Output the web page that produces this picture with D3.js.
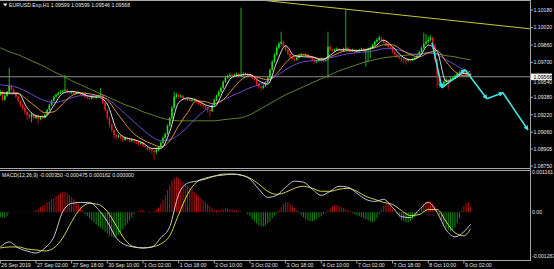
<!DOCTYPE html>
<html>
<head>
<meta charset="utf-8">
<script src="https://cdn.jsdelivr.net/npm/d3@7"></script>
<style>
body { margin: 0; background: #000; }
svg { display: block; }
text { font-family: "Liberation Sans", Arial, sans-serif; font-size: 5.2px; fill: #e6e6e6; }
</style>
</head>
<body>
<script>
//Chart window size
var w = 554;
var h = 269;
var plotRight = 530;

//Title texts
var priceTitle = "EURUSD.Exp,H1  1.09599 1.09599 1.09546 1.09568";
var macdTitle = "MACD(12,26,9) -0.000350 -0.000475 0.000162 0.000000";

//Time axis labels (every 16 H1 bars)
var timeLabels = ["26 Sep 2019", "27 Sep 02:00", "27 Sep 18:00", "30 Sep 10:00", "1 Oct 02:00",
  "1 Oct 18:00", "2 Oct 10:00", "3 Oct 02:00", "3 Oct 18:00", "4 Oct 10:00", "7 Oct 02:00",
  "7 Oct 18:00", "8 Oct 10:00", "9 Oct 02:00"];
var timeLabelBars = [0, 16, 32, 48, 64, 80, 96, 112, 128, 144, 160, 176, 192, 208];

//Price axis labels
var priceTicks = [1.10180, 1.10020, 1.09860, 1.09700, 1.09540, 1.09380, 1.09220, 1.09060, 1.08905, 1.08750];
var priceTickLabels = ["1.10180", "1.10020", "1.09860", "1.09700", "1.09540", "1.09380", "1.09220", "1.09060", "1.08905", "1.08750"];
var lastPrice = 1.09568;

//MACD axis labels
var macdTicks = [0.001161, 0, -0.001263];
var macdTickLabels = ["0.001161", "0.00", "-0.001263"];

//Candles, prices in points (1.00000 + pts/100000); open = previous close
var firstOpenPts = 9400;
var closePts = [9430,9357,9394,9430,9485,9449,9421,9385,9348,9311,
  9284,9247,9220,9201,9229,9192,9210,9183,9201,9192,
  9220,9265,9311,9348,9385,9403,9421,9430,9440,9449,
  9430,9421,9430,9412,9421,9424,9403,9412,9385,9375,
  9366,9385,9375,9385,9394,9403,9330,9265,9192,9128,
  9082,9036,9018,9027,9009,8990,9009,9000,8981,8990,
  8981,8972,8954,8963,8935,8926,8908,8899,8890,8880,
  8899,8926,8963,9009,9045,9119,9192,9284,9385,9403,
  9385,9394,9366,9357,9366,9348,9357,9360,9339,9320,
  9311,9302,9284,9265,9256,9302,9357,9394,9430,9467,
  9522,9559,9577,9586,9577,9586,9596,9577,9586,9596,
  9596,9586,9577,9559,9540,9504,9476,9467,9485,9513,
  9559,9632,9706,9770,9834,9871,9889,9852,9816,9779,
  9751,9733,9724,9742,9761,9770,9761,9770,9751,9742,
  9724,9706,9715,9724,9733,9715,9724,9843,9816,9806,
  9816,9825,9816,9806,9825,9834,9816,9806,9816,9797,
  9806,9816,9825,9806,9816,9825,9834,9861,9889,9907,
  9926,9907,9880,9861,9843,9834,9797,9770,9751,9742,
  9733,9724,9715,9724,9720,9733,9742,9761,9797,9834,
  9871,9889,9907,9926,9861,9724,9586,9495,9485,9522,
  9540,9531,9550,9559,9577,9596,9605,9614,9605,9586,
  9599,9568];
var highPts = [9445,9440,9405,9440,9651,9495,9460,9430,9395,9355,
  9320,9290,9255,9230,9240,9235,9220,9215,9210,9215,
  9230,9275,9320,9360,9395,9415,9430,9445,9450,9586,
  9460,9440,9440,9438,9430,9435,9430,9420,9420,9395,
  9385,9395,9392,9395,9405,9467,9410,9340,9275,9200,
  9140,9090,9045,9040,9035,9015,9020,9018,9010,9000,
  8998,8990,8980,8975,8970,8945,8935,8915,8910,8900,
  8910,8935,8975,9020,9055,9130,9200,9300,9430,9420,
  9415,9405,9400,9375,9378,9372,9368,9370,9368,9345,
  9330,9320,9310,9290,9275,9315,9370,9405,9445,9480,
  9535,9575,9590,9600,9598,9597,9606,9605,10201,9610,
  9608,9603,9595,9585,9565,9548,9512,9490,9498,9525,
  9570,9645,9720,9785,9850,9890,9981,9900,9860,9825,
  9790,9760,9745,9752,9772,9785,9778,9782,9778,9760,
  9750,9732,9725,9735,9745,9740,9735,9981,9855,9825,
  9828,9838,9832,9822,9835,10191,9842,9825,9826,9822,
  9818,9825,9835,9832,9825,9835,9845,9870,9900,9925,
  9945,9935,9915,9890,9870,9852,9840,9805,9780,9760,
  9750,9742,9732,9735,9732,9742,9752,9772,9808,9845,
  9971,9960,9940,9950,9935,9870,9735,9595,9510,9535,
  9555,9550,9565,9570,9590,9610,9620,9630,9625,9612,
  9612,9599];
var lowPts = [9390,9345,9350,9385,9420,9440,9410,9370,9330,9290,
  9260,9220,9170,9180,9150,9175,9180,9140,9170,9180,
  9185,9210,9255,9300,9340,9375,9395,9410,9420,9430,
  9420,9410,9410,9400,9405,9410,9395,9395,9375,9360,
  9355,9360,9365,9368,9378,9385,9320,9250,9170,9100,
  9060,9000,8990,9005,8995,8970,8980,8985,8965,8970,
  8960,8950,8940,8945,8920,8910,8890,8880,8860,8807,
  8860,8885,8915,8950,8995,9035,9110,9180,9275,9370,
  9370,9375,9355,9345,9348,9338,9340,9345,9325,9305,
  9295,9285,9270,9240,9201,9245,9295,9345,9385,9420,
  9455,9510,9550,9565,9565,9570,9575,9565,9570,9578,
  9585,9575,9565,9545,9525,9490,9460,9440,9455,9475,
  9505,9550,9620,9695,9760,9820,9860,9840,9800,9765,
  9740,9720,9710,9715,9735,9750,9750,9752,9740,9730,
  9710,9690,9695,9705,9715,9700,9705,9559,9805,9795,
  9798,9805,9805,9795,9798,9815,9805,9795,9798,9785,
  9790,9798,9808,9795,9660,9700,9740,9825,9850,9878,
  9895,9895,9870,9850,9830,9820,9785,9755,9740,9730,
  9700,9690,9680,9705,9705,9712,9725,9735,9752,9790,
  9825,9860,9880,9895,9850,9710,9467,9467,9470,9475,
  9510,9449,9520,9540,9548,9570,9585,9595,9592,9575,
  9580,9546];

//Moving averages read every 4 bars, in points
var maBars = [0,4,8,12,16,20,24,28,32,36,40,44,48,52,56,60,64,68,72,76,80,84,88,92,96,100,
  104,108,112,116,120,124,128,132,136,140,144,148,152,156,160,164,168,172,176,180,184,188,
  192,196,200,204,208,211];
var maWhite = [9421,9419,9418,9284,9210,9201,9306,9416,9434,9418,9388,9381,9317,9091,9010,8992,8961,8911,8911,9065,
  9330,9374,9353,9311,9293,9434,9564,9584,9588,9531,9500,9700,9852,9760,9751,9749,9720,9766,9815,9815,
  9806,9815,9845,9902,9843,9759,9724,9751,9859,9801,9526,9551,9599,9588];
var maOrange = [9421,9412,9412,9357,9293,9238,9247,9320,9394,9421,9412,9394,9357,9247,9137,9045,8990,8953,8926,8981,
  9119,9238,9348,9339,9320,9357,9449,9540,9577,9559,9540,9595,9696,9760,9770,9751,9733,9751,9788,9806,
  9806,9815,9834,9861,9861,9815,9770,9751,9788,9806,9706,9614,9577,9577];
var maPurple = [9495,9485,9467,9430,9385,9348,9330,9348,9375,9394,9394,9394,9366,9302,9229,9155,9082,9018,8981,8990,
  9036,9109,9192,9265,9320,9357,9394,9430,9467,9495,9531,9577,9632,9678,9706,9715,9724,9742,9761,9779,
  9788,9797,9806,9825,9825,9806,9779,9770,9788,9770,9724,9678,9632,9614];
var maOlive = [9834,9797,9770,9733,9696,9660,9614,9577,9531,9495,9458,9421,9385,9348,9311,9284,9247,9220,9192,9174,
  9164,9164,9164,9164,9164,9174,9183,9192,9220,9265,9311,9357,9403,9440,9476,9513,9550,9586,9623,9650,
  9678,9706,9724,9742,9751,9761,9770,9779,9788,9779,9761,9751,9733,9724];

//Drawn objects: trend line and forecast zigzag (bar index, points)
var trendBars = [119.6, 237.6];
var trendPts = [10265, 10008];
var forecastBars = [193.7, 198.1, 208.5, 218.3, 225.5, 236.7];
var forecastPts = [9880, 9467, 9632, 9366, 9421, 9082];

//MACD main and signal (every 4 bars) and histogram (every bar), in millionths
var macdMain = [-1002,-856,-1031,-1118,-1177,-1031,-710,20,254,283,283,79,-272,-739,-943,-1002,-1031,-1002,-739,-418,
  517,838,896,955,1042,1072,1101,1072,955,663,429,488,721,896,867,663,488,604,750,721,
  546,371,312,371,137,-126,-155,79,283,-9,-505,-710,-564,-350];
var macdSignal = [-1031,-1002,-1002,-1060,-1089,-1118,-1031,-739,-272,108,254,225,20,-388,-797,-1002,-1031,-1002,-914,-680,
  -67,517,867,984,1042,1101,1101,1072,984,809,604,517,575,692,750,692,604,604,663,692,
  604,458,371,283,225,50,-96,-67,79,79,-272,-593,-680,-475];
var macdHist = [-146,-146,-175,-117,-29,0,15,0,-15,0,
  15,0,0,15,0,15,58,88,146,175,
  234,292,321,380,409,467,496,555,584,584,
  555,496,438,380,321,234,146,58,-58,-117,
  -175,-234,-292,-350,-409,-438,-496,-555,-613,-672,
  -701,-730,-701,-642,-584,-496,-409,-321,-234,-146,
  -58,0,29,58,58,29,0,-29,0,29,
  88,146,234,350,496,642,788,905,993,1022,
  993,934,876,818,759,701,642,584,526,467,
  409,350,292,234,175,117,58,58,58,88,
  88,117,117,88,88,58,58,29,29,0,
  0,-58,-117,-204,-263,-321,-380,-409,-409,-380,
  -321,-263,-175,-88,-29,58,146,234,292,292,
  234,175,117,58,-29,-88,-146,-204,-234,-263,
  -263,-234,-204,-146,-117,-58,-29,58,117,175,
  204,204,175,146,117,88,58,29,-29,-58,
  -88,-117,-146,-175,-204,-234,-263,-292,-263,-175,
  -58,88,175,234,234,175,88,29,-58,-146,
  -234,-263,-292,-292,-263,-204,-146,-58,58,146,
  234,292,321,321,263,175,58,-88,-234,-350,
  -467,-526,-555,-526,-438,-321,-175,58,175,263,
  292,162];

var toPrice = function(p) { return 1 + p / 100000; };
var toMacd = function(v) { return v / 1000000; };

//Build candle objects
var candles = closePts.map(function(c, i) {
  return {
    i: i,
    o: toPrice(i === 0 ? firstOpenPts : closePts[i - 1]),
    h: toPrice(highPts[i]),
    l: toPrice(lowPts[i]),
    c: toPrice(c)
  };
});

//Scales
var xScale = d3.scaleLinear().domain([0, 211]).range([0.33, 470.6]);
var yScale = d3.scaleLinear().domain([1.08750, 1.10180]).range([166, 10]);
var mScale = d3.scaleLinear().domain([-0.001263, 0.001161]).range([256, 172]);

//Create SVG element
var svg = d3.select("body")
  .append("svg")
  .attr("width", w)
  .attr("height", h);

svg.append("rect").attr("width", w).attr("height", h).attr("fill", "#000");

var defs = svg.append("defs");
defs.append("clipPath").attr("id", "clipMain")
  .append("rect").attr("x", 0).attr("y", 1).attr("width", plotRight).attr("height", 167);
defs.append("clipPath").attr("id", "clipMacd")
  .append("rect").attr("x", 0).attr("y", 171).attr("width", plotRight).attr("height", 89);
defs.append("marker")
  .attr("id", "arrow")
  .attr("viewBox", "0 0 6 6")
  .attr("refX", 5).attr("refY", 3)
  .attr("markerWidth", 5).attr("markerHeight", 5)
  .attr("markerUnits", "userSpaceOnUse")
  .attr("orient", "auto")
  .append("path").attr("d", "M0,0L6,3L0,6Z").attr("fill", "#3fe3e0");

var main = svg.append("g").attr("clip-path", "url(#clipMain)");

//Current price line
main.append("line")
  .attr("x1", 0).attr("x2", plotRight)
  .attr("y1", yScale(lastPrice)).attr("y2", yScale(lastPrice))
  .attr("stroke", "#8a8a8a").attr("stroke-width", 1);

//Candles: wicks then bodies
main.selectAll("line.wick")
  .data(candles)
  .enter()
  .append("line")
  .attr("class", "wick")
  .attr("x1", d => xScale(d.i))
  .attr("x2", d => xScale(d.i))
  .attr("y1", d => yScale(d.h))
  .attr("y2", d => yScale(d.l))
  .attr("stroke", d => d.c >= d.o ? "#1fe01f" : "#e01c1c")
  .attr("stroke-width", 0.8);

main.selectAll("rect.body")
  .data(candles)
  .enter()
  .append("rect")
  .attr("class", "body")
  .attr("x", d => xScale(d.i) - 0.8)
  .attr("width", 1.6)
  .attr("y", d => yScale(Math.max(d.o, d.c)))
  .attr("height", d => Math.max(0.6, Math.abs(yScale(d.o) - yScale(d.c))))
  .attr("fill", d => d.c >= d.o ? "#1fe01f" : "#e01c1c");

//Moving averages
var maLine = d3.line()
  .x(d => xScale(d[0]))
  .y(d => yScale(toPrice(d[1])))
  .curve(d3.curveMonotoneX);

[[maOlive, "#6b9130"], [maPurple, "#7a4fe0"], [maOrange, "#f0a23a"], [maWhite, "#f4f4f4"]].forEach(function(m) {
  main.append("path")
    .datum(maBars.map((b, k) => [b, m[0][k]]))
    .attr("d", maLine)
    .attr("fill", "none")
    .attr("stroke", m[1])
    .attr("stroke-width", 0.9);
});

//Trend line
main.append("line")
  .attr("x1", xScale(trendBars[0])).attr("y1", yScale(toPrice(trendPts[0])))
  .attr("x2", xScale(trendBars[1])).attr("y2", yScale(toPrice(trendPts[1])))
  .attr("stroke", "#c9c938").attr("stroke-width", 1);

//Forecast zigzag with arrows
for (var k = 0; k < forecastBars.length - 1; k++) {
  main.append("line")
    .attr("x1", xScale(forecastBars[k])).attr("y1", yScale(toPrice(forecastPts[k])))
    .attr("x2", xScale(forecastBars[k + 1])).attr("y2", yScale(toPrice(forecastPts[k + 1])))
    .attr("stroke", "#3fe3e0").attr("stroke-width", 1.6)
    .attr("marker-end", "url(#arrow)");
}

//MACD panel
var macd = svg.append("g").attr("clip-path", "url(#clipMacd)");

macd.selectAll("line.hist")
  .data(macdHist)
  .enter()
  .append("line")
  .attr("class", "hist")
  .attr("x1", (d, i) => xScale(i))
  .attr("x2", (d, i) => xScale(i))
  .attr("y1", mScale(0))
  .attr("y2", d => mScale(toMacd(d)))
  .attr("stroke", d => d >= 0 ? "#c81414" : "#169a16")
  .attr("stroke-width", 0.9);

var macdLine = d3.line()
  .x(d => xScale(d[0]))
  .y(d => mScale(toMacd(d[1])))
  .curve(d3.curveMonotoneX);

macd.append("path")
  .datum(maBars.map((b, k) => [b, macdSignal[k]]))
  .attr("d", macdLine)
  .attr("fill", "none").attr("stroke", "#e6e650").attr("stroke-width", 0.9);

macd.append("path")
  .datum(maBars.map((b, k) => [b, macdMain[k]]))
  .attr("d", macdLine)
  .attr("fill", "none").attr("stroke", "#d8d8ee").attr("stroke-width", 0.9);

//Frame lines
var frame = "#a8a8a8";
svg.append("line").attr("x1", 0).attr("x2", plotRight).attr("y1", 0.5).attr("y2", 0.5).attr("stroke", frame);
svg.append("line").attr("x1", 0).attr("x2", plotRight).attr("y1", 168.5).attr("y2", 168.5).attr("stroke", frame);
svg.append("line").attr("x1", 0).attr("x2", plotRight).attr("y1", 170.5).attr("y2", 170.5).attr("stroke", frame);
svg.append("line").attr("x1", 0).attr("x2", plotRight).attr("y1", 260.5).attr("y2", 260.5).attr("stroke", frame);
svg.append("line").attr("x1", plotRight + 0.5).attr("x2", plotRight + 0.5).attr("y1", 0).attr("y2", 261).attr("stroke", frame);

//Price axis; the label hidden behind the price box sits just below it
var boxTop = yScale(lastPrice) - 3.2;
var boxBottom = yScale(lastPrice) + 3.2;
var pAxis = svg.append("g");
priceTicks.forEach(function(p, k) {
  var ty = yScale(p);
  if (Math.abs(ty - yScale(lastPrice)) < 6) ty = boxBottom + 2.6;
  pAxis.append("line")
    .attr("x1", plotRight).attr("x2", plotRight + 3)
    .attr("y1", yScale(p)).attr("y2", yScale(p))
    .attr("stroke", frame);
  pAxis.append("text")
    .attr("x", plotRight + 3.5).attr("y", ty).attr("dy", "0.35em")
    .text(priceTickLabels[k]);
});

//Current price box
svg.append("rect")
  .attr("x", plotRight + 1).attr("y", boxTop)
  .attr("width", 21).attr("height", boxBottom - boxTop)
  .attr("fill", "#f2f2f2");
svg.append("text")
  .attr("x", plotRight + 3.5).attr("y", yScale(lastPrice)).attr("dy", "0.35em")
  .style("fill", "#000")
  .text("1.09568");

//MACD axis
macdTicks.forEach(function(v, k) {
  svg.append("text")
    .attr("x", plotRight + 2).attr("y", mScale(v)).attr("dy", "0.35em")
    .text(macdTickLabels[k]);
});

//Time axis
timeLabelBars.forEach(function(b, k) {
  svg.append("line")
    .attr("x1", xScale(b)).attr("x2", xScale(b))
    .attr("y1", 260.5).attr("y2", 263.5)
    .attr("stroke", frame);
  svg.append("text")
    .attr("x", xScale(b) + 1).attr("y", 266.5)
    .text(timeLabels[k]);
});

//Titles
svg.append("path").attr("d", "M3,3.5L7.5,3.5L5.25,6.5Z").attr("fill", "#eee");
svg.append("text").attr("x", 9).attr("y", 6.8).text(priceTitle);
svg.append("text").attr("x", 2).attr("y", 176.5).text(macdTitle);
</script>
</body>
</html>
